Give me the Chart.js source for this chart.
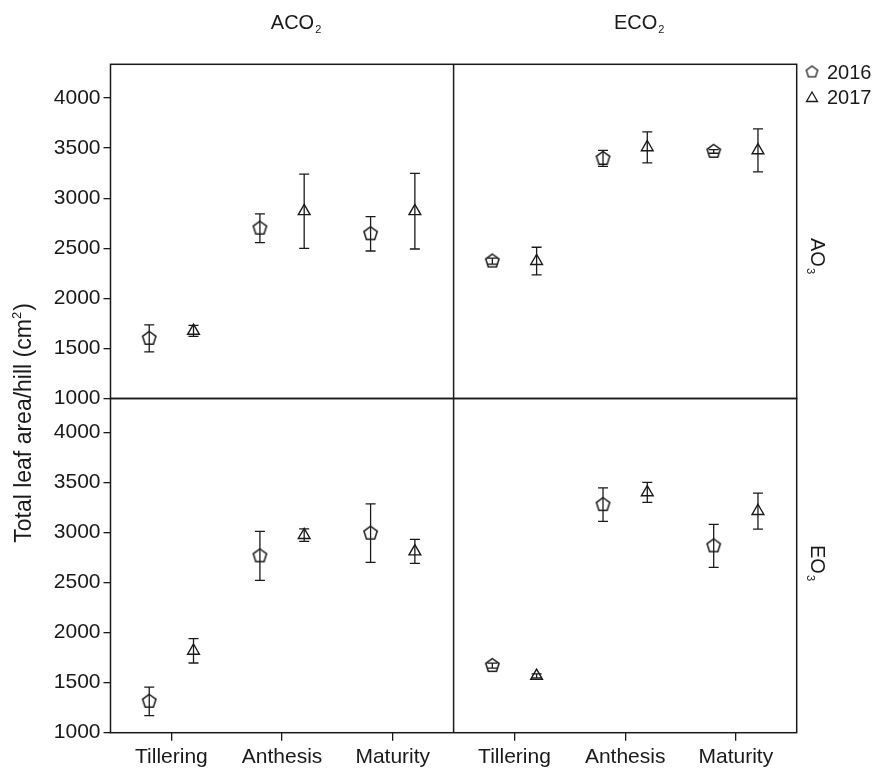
<!DOCTYPE html>
<html>
<head>
<meta charset="utf-8">
<script src="https://cdn.jsdelivr.net/npm/chart.js@4.4.0/dist/chart.umd.min.js"></script>
<style>
  html, body { margin: 0; padding: 0; background: #fff; }
  #wrap { width: 890px; height: 773px; position: relative; }
</style>
</head>
<body>
<div id="wrap"><canvas id="facet_chart" width="890" height="773"></canvas></div>
<script>
const categories = ['Tillering', 'Anthesis', 'Maturity'];
const years = ['2016', '2017'];
const yTicks = [1000, 1500, 2000, 2500, 3000, 3500, 4000];
const co2Strip = [['ACO', '2'], ['ECO', '2']];
const o3Strip = [['AO', '3'], ['EO', '3']];
const yTitle = ['Total leaf area/hill (cm', '2', ')'];

// AO3 row: ACO2 (Tillering, Anthesis, Maturity) then ECO2 (Tillering, Anthesis, Maturity)
const ao3Mean2016 = [1600, 2700, 2645, 2372, 3397, 3467];
const ao3Err2016  = [135, 143, 172, 30, 80, 18];
const ao3Mean2017 = [1675, 2870, 2870, 2372, 3508, 3478];
const ao3Err2017  = [55, 370, 377, 138, 155, 215];

// EO3 row
const eo3Mean2016 = [1313, 2765, 2992, 1670, 3277, 2865];
const eo3Err2016  = [143, 245, 292, 25, 167, 215];
const eo3Mean2017 = [1818, 2973, 2810, 1567, 3400, 3213];
const eo3Err2017  = [122, 63, 120, 20, 100, 180];

const FONT = "'Liberation Sans', Arial, Helvetica, sans-serif";
const INK = '#1a1a1a';

// each facet column is 3.1 units wide, categories one unit apart
const PANEL_W = 3.1, CAT_START = 0.55, DODGE = 0.2;
function xPos(i, yearIdx) {
  return Math.floor(i / 3) * PANEL_W + CAT_START + (i % 3) + (yearIdx ? DODGE : -DODGE);
}
const xTickPos = [0, 1, 2, 3, 4, 5].map(i => Math.floor(i / 3) * PANEL_W + CAT_START + (i % 3));

function pentagonImage(r, lw) {
  const s = Math.ceil(r * 2 + lw * 2 + 2);
  const c = document.createElement('canvas');
  c.width = s; c.height = s;
  const g = c.getContext('2d');
  g.strokeStyle = INK;
  g.lineWidth = lw;
  g.beginPath();
  for (let k = 0; k < 5; k++) {
    const a = -Math.PI / 2 + k * 2 * Math.PI / 5;
    const px = s / 2 + r * Math.cos(a), py = s / 2 + r * Math.sin(a);
    if (k === 0) g.moveTo(px, py); else g.lineTo(px, py);
  }
  g.closePath();
  g.stroke();
  return c;
}
const pent = pentagonImage(7, 1.5);
const pentSmall = pentagonImage(6, 1.3);

function makeSet(label, means, errs, yearIdx, axis) {
  return {
    label: label,
    data: means.map((v, i) => ({ x: xPos(i, yearIdx), y: v })),
    errs: errs,
    yAxisID: axis,
    pointStyle: yearIdx ? 'triangle' : pent,
    pointRadius: yearIdx ? 6.8 : 7,
    borderColor: INK,
    backgroundColor: 'rgba(0,0,0,0)',
    borderWidth: 1.4,
    showLine: false
  };
}

const errorBars = {
  id: 'errorBars',
  afterDatasetsDraw(chart) {
    const ctx = chart.ctx;
    ctx.save();
    ctx.strokeStyle = INK;
    ctx.lineWidth = 1.3;
    chart.data.datasets.forEach((ds, di) => {
      const meta = chart.getDatasetMeta(di);
      const ys = chart.scales[ds.yAxisID];
      meta.data.forEach((pt, i) => {
        const m = ds.data[i].y, e = ds.errs[i];
        const yHi = ys.getPixelForValue(m + e), yLo = ys.getPixelForValue(m - e);
        ctx.beginPath();
        ctx.moveTo(pt.x, yHi); ctx.lineTo(pt.x, yLo);
        ctx.moveTo(pt.x - 5, yHi); ctx.lineTo(pt.x + 5, yHi);
        ctx.moveTo(pt.x - 5, yLo); ctx.lineTo(pt.x + 5, yLo);
        ctx.stroke();
      });
    });
    ctx.restore();
  }
};

function subText(ctx, base, sub, x, y, size, subSize, drop) {
  ctx.font = size + 'px ' + FONT;
  const wb = ctx.measureText(base).width;
  ctx.font = subSize + 'px ' + FONT;
  const ws = ctx.measureText(sub).width;
  const start = x - (wb + ws + 1) / 2;
  ctx.font = size + 'px ' + FONT;
  ctx.fillText(base, start, y);
  ctx.font = subSize + 'px ' + FONT;
  ctx.fillText(sub, start + wb + 1, y + drop);
}

const frame = {
  id: 'frame',
  afterDraw(chart) {
    const ctx = chart.ctx;
    const ca = chart.chartArea;
    const xs = chart.scales.x;
    ctx.save();
    ctx.strokeStyle = INK;
    ctx.lineWidth = 1.5;
    ['yTop', 'yBot'].forEach(id => {
      const s = chart.scales[id];
      ctx.strokeRect(ca.left, s.top, ca.right - ca.left, s.bottom - s.top);
    });
    const xDiv = xs.getPixelForValue(PANEL_W);
    ctx.beginPath();
    ctx.moveTo(xDiv, ca.top); ctx.lineTo(xDiv, ca.bottom);
    ctx.stroke();

    ctx.fillStyle = INK;
    ctx.textAlign = 'left';
    ctx.textBaseline = 'alphabetic';
    // column strips
    co2Strip.forEach((t, p) => {
      const cx = (xs.getPixelForValue(p * PANEL_W) + xs.getPixelForValue((p + 1) * PANEL_W)) / 2;
      subText(ctx, t[0], t[1], cx + 14, 29, 20, 11, 4);
    });
    // row strips, rotated clockwise
    const rowCenters = [256, 563];
    o3Strip.forEach((t, r) => {
      ctx.save();
      ctx.translate(811, rowCenters[r]);
      ctx.rotate(Math.PI / 2);
      subText(ctx, t[0], t[1], 0, 0, 20, 11, 4);
      ctx.restore();
    });
    // y title
    ctx.save();
    ctx.translate(31, 423);
    ctx.rotate(-Math.PI / 2);
    ctx.font = '23px ' + FONT;
    const w0 = ctx.measureText(yTitle[0]).width;
    const w2 = ctx.measureText(yTitle[2]).width;
    ctx.font = '13px ' + FONT;
    const w1 = ctx.measureText(yTitle[1]).width;
    let sx = -(w0 + w1 + w2 + 1) / 2;
    ctx.font = '23px ' + FONT;
    ctx.fillText(yTitle[0], sx, 0);
    ctx.font = '13px ' + FONT;
    ctx.fillText(yTitle[1], sx + w0, -10);
    ctx.font = '23px ' + FONT;
    ctx.fillText(yTitle[2], sx + w0 + w1 + 1, 0);
    ctx.restore();
    // legend
    ctx.font = '20px ' + FONT;
    ctx.textBaseline = 'middle';
    ctx.drawImage(pentSmall, 812 - pentSmall.width / 2, 72 - pentSmall.height / 2);
    ctx.fillText(years[0], 827, 73);
    ctx.lineWidth = 1.3;
    ctx.beginPath();
    ctx.moveTo(812, 92); ctx.lineTo(817.5, 101.5); ctx.lineTo(806.5, 101.5); ctx.closePath();
    ctx.stroke();
    ctx.fillText(years[1], 827, 98);
    ctx.restore();
  }
};

function yAxis() {
  return {
    type: 'linear',
    position: 'left',
    stack: 'rows',
    stackWeight: 1,
    min: 1000,
    max: 4337,
    afterBuildTicks: s => { s.ticks = yTicks.map(v => ({ value: v })); },
    afterFit: s => { s.width = 110.5; },
    border: { display: false },
    grid: { drawOnChartArea: false, drawTicks: true, tickLength: 7, color: INK, lineWidth: 1.3 },
    ticks: { color: INK, font: { family: FONT, size: 21 }, padding: 3, callback: v => String(v) }
  };
}

const chart = new Chart(document.getElementById('facet_chart').getContext('2d'), {
  type: 'scatter',
  data: {
    datasets: [
      makeSet('2016', ao3Mean2016, ao3Err2016, 0, 'yTop'),
      makeSet('2017', ao3Mean2017, ao3Err2017, 1, 'yTop'),
      makeSet('2016', eo3Mean2016, eo3Err2016, 0, 'yBot'),
      makeSet('2017', eo3Mean2017, eo3Err2017, 1, 'yBot')
    ]
  },
  options: {
    responsive: false,
    animation: false,
    layout: { padding: { top: 64.3, right: 93.3, left: 0, bottom: 0 } },
    plugins: { legend: { display: false }, tooltip: { enabled: false } },
    scales: {
      x: {
        type: 'linear',
        min: 0,
        max: 2 * PANEL_W,
        afterBuildTicks: s => { s.ticks = xTickPos.map(v => ({ value: v })); },
        afterFit: s => { s.height = 40.3; },
        border: { display: false },
        grid: { drawOnChartArea: false, drawTicks: true, tickLength: 8, color: INK, lineWidth: 1.3 },
        ticks: {
          color: INK,
          font: { family: FONT, size: 21 },
          padding: 4,
          autoSkip: false,
          maxRotation: 0,
          callback: (v, i) => categories[i % 3]
        }
      },
      // stacked axes are laid out bottom-up in declaration order
      yBot: yAxis(),
      yTop: yAxis()
    }
  },
  plugins: [errorBars, frame]
});
</script>
</body>
</html>
